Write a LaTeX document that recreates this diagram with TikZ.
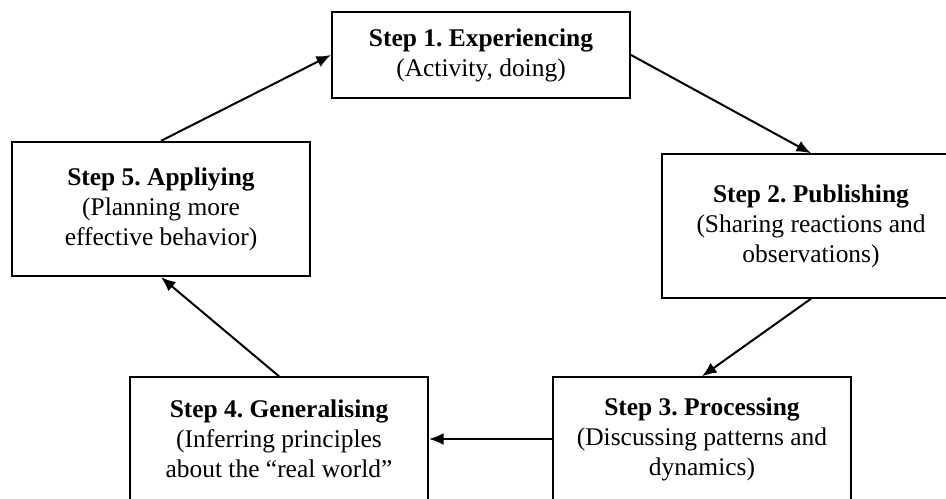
\documentclass[tikz,border=0pt]{standalone}
\usepackage{fontspec}
\setmainfont{Liberation Serif}
\usetikzlibrary{positioning, arrows.meta}
\frenchspacing

\begin{document}
\begin{tikzpicture}[x=0.55pt, y=-0.55pt,
    every node/.style={rectangle, draw, line width=1pt, minimum width=164pt, align=center, font=\fontsize{14}{16.5}\selectfont},
    flow/.style={-{Latex[length=8pt, width=6.5pt]}, line width=1.1pt}]
      \useasboundingbox (0,0) rectangle (946,498);

      % Fasi del ciclo
      \node (S1) at (481,55) [minimum height=47pt] {\textbf{Step 1. Experiencing}\\(Activity, doing)};
      \node (S2) at (811,226) [minimum height=79pt] {\textbf{Step 2. Publishing}\\(Sharing reactions and\\observations)};
      \node (S3) at (702,439) [minimum height=68pt] {\textbf{Step 3. Processing}\\(Discussing patterns and\\dynamics)};
      \node (S4) at (279,439) [minimum height=68pt] {\textbf{Step 4. Generalising}\\(Inferring principles\\about the ``real world''};
      \node (S5) at (161,209) [minimum height=74pt] {\textbf{Step 5. Appliying}\\(Planning more\\effective behavior)};

      % Frecce
      \draw[flow] (S5.north) -- (S1.west);
      \draw[flow] (S1.east) -- (S2.north);
      \draw[flow] (S2.south) -- (S3.north);
      \draw[flow] (S3.west) -- (S4.east);
      \draw[flow] (S4.north) -- (S5.south);
    \end{tikzpicture}
\end{document}
